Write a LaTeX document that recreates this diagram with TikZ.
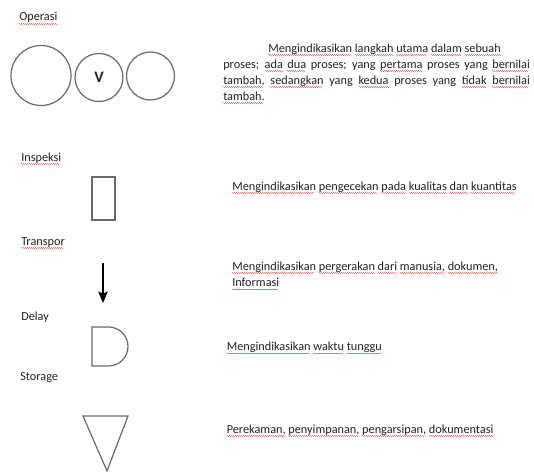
\documentclass[tikz,border=0pt]{standalone}
\usepackage{fontspec}
\setmainfont{Carlito}
\usetikzlibrary{arrows.meta}
\newsavebox\sqbox
\newcommand\sqwave{\hbox{\raisebox{0.35pt}{\rule{0.75pt}{0.35pt}}\rule{0.75pt}{0.35pt}}}
\newcommand\sq[1]{\leavevmode\sbox\sqbox{#1}\rlap{\raisebox{-2.3pt}{\hbox{\color{red!55}\leaders\sqwave\hskip\wd\sqbox}}}\usebox\sqbox}
\definecolor{shapeline}{HTML}{6A6A6A}
\definecolor{txt}{HTML}{222222}
\begin{document}
\begin{tikzpicture}[x=0.75pt,y=-0.75pt,
  lbl/.style={anchor=base west, inner sep=0pt, text=txt, font=\fontsize{9.2}{11}\selectfont},
  shp/.style={draw=shapeline, line width=0.9pt},
  rnd/.style={shp, circle, inner sep=0pt}]
\useasboundingbox[fill=white] (0,0) rectangle (534,471);

% Operasi
\node[lbl] (lop) at (19,21) {\sq{Operasi}};
\node[rnd, minimum size=45pt] (c1) at (41,75.5) {};
\node[rnd, minimum size=36pt, font=\fontsize{12}{12}\selectfont\bfseries, text=txt] (c2) at (99,77.5) {V};
\node[rnd, minimum size=36pt] (c3) at (150.5,76) {};
\node[lbl] (d1a) at (268,52) {\sq{Mengindikasikan} \sq{langkah} \sq{utama} \sq{dalam} \sq{sebuah}};
\node[lbl] (d1b) at (223,68) {\makebox[230pt][s]{proses; \sq{ada} \sq{dua} proses; yang \sq{pertama} proses yang \sq{bernilai}}};
\node[lbl] (d1c) at (223,84) {\makebox[230pt][s]{\sq{tambah,} \sq{sedangkan} yang \sq{kedua} proses yang \sq{tidak} \sq{bernilai}}};
\node[lbl] (d1d) at (223,100) {\sq{tambah.}};

% Inspeksi
\node[lbl] (lin) at (21,161) {\sq{Inspeksi}};
\node[shp, rectangle, inner sep=0pt, minimum width=17.25pt, minimum height=32.25pt] (rect) at (103.5,198.5) {};
\node[lbl] (d2) at (232,190) {\sq{Mengindikasikan} \sq{pengecekan} \sq{pada} \sq{kualitas} \sq{dan} \sq{kuantitas}};

% Transpor
\node[lbl] (ltr) at (21,245) {\sq{Transpor}};
\coordinate (atop) at (103,263);
\coordinate (abot) at (103,303);
\draw[line width=1.4pt, black, -{Stealth[length=8.5pt,width=7pt,inset=1.5pt]}] (atop) -- (abot);
\node[lbl] (d3a) at (232,270) {\sq{Mengindikasikan} \sq{pergerakan} \sq{dari} \sq{manusia,} \sq{dokumen,}};
\node[lbl] (d3b) at (232,286.5) {\sq{Informasi}};

% Delay
\node[lbl] (lde) at (21,320) {Delay};
\draw[shp] (92,327) -- (108.5,327) arc(-90:90:19.5) -- (92,366) -- cycle;
\node[lbl] (d4) at (226.5,350.5) {\sq{Mengindikasikan} \sq{waktu} \sq{tunggu}};

% Storage
\node[lbl] (lst) at (20,380) {Storage};
\draw[shp, line join=miter] (83,416) -- (128,416) -- (107,471) -- cycle;
\node[lbl] (d5) at (226.5,433) {\sq{Perekaman,} \sq{penyimpanan,} \sq{pengarsipan,} \sq{dokumentasi}};
\end{tikzpicture}
\end{document}
